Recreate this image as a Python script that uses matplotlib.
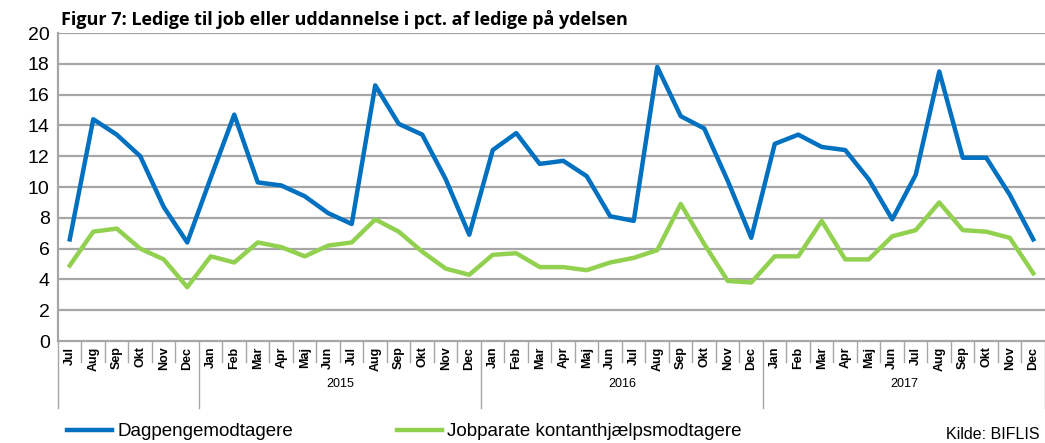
import matplotlib
matplotlib.use('Agg')
from matplotlib import pyplot as plt

months = ['Jul', 'Aug', 'Sep', 'Okt', 'Nov', 'Dec'] + \
         ['Jan', 'Feb', 'Mar', 'Apr', 'Maj', 'Jun', 'Jul', 'Aug', 'Sep', 'Okt', 'Nov', 'Dec'] * 3
years = ['2015', '2016', '2017']

dagpenge = [6.6, 14.4, 13.4, 12.0, 8.7, 6.4,
            10.6, 14.7, 10.3, 10.1, 9.4, 8.3, 7.6, 16.6, 14.1, 13.4, 10.5, 6.9,
            12.4, 13.5, 11.5, 11.7, 10.7, 8.1, 7.8, 17.8, 14.6, 13.8, 10.4, 6.7,
            12.8, 13.4, 12.6, 12.4, 10.5, 7.9, 10.8, 17.5, 11.9, 11.9, 9.5, 6.6]
kontant = [4.9, 7.1, 7.3, 6.0, 5.3, 3.5,
           5.5, 5.1, 6.4, 6.1, 5.5, 6.2, 6.4, 7.9, 7.1, 5.8, 4.7, 4.3,
           5.6, 5.7, 4.8, 4.8, 4.6, 5.1, 5.4, 5.9, 8.9, 6.3, 3.9, 3.8,
           5.5, 5.5, 7.8, 5.3, 5.3, 6.8, 7.2, 9.0, 7.2, 7.1, 6.7, 4.4]

plt.rcParams['font.family'] = ['Liberation Sans', 'DejaVu Sans']

fig = plt.figure(figsize=(10.45, 4.43), dpi=100)
ax = fig.add_axes([0.0555, 0.2302, 0.9445, 0.6953])

x = list(range(len(months)))
for yv in range(2, 21, 2):
    ax.axhline(yv, color='#a6a6a6', lw=1.6, zorder=1)
ax.plot(x, dagpenge, color='#0070c0', lw=3.2, zorder=3, label='Dagpengemodtagere')
ax.plot(x, kontant, color='#92d050', lw=3.2, zorder=3, label='Jobparate kontanthjælpsmodtagere')

ax.set_xlim(-0.5, len(months) - 0.5)
ax.set_ylim(0, 20)
ax.set_yticks(range(0, 21, 2))
ax.tick_params(axis='y', length=0, labelsize=14, pad=6)
ax.set_xticks(x)
ax.set_xticklabels(months, rotation=90, fontsize=9, fontweight='bold')
ax.tick_params(axis='x', length=0, pad=4)
for s in ['top', 'right']:
    ax.spines[s].set_visible(False)
ax.spines['left'].set_color('#a6a6a6')
ax.spines['left'].set_linewidth(1.6)
ax.spines['bottom'].set_color('#a6a6a6')
ax.spines['bottom'].set_linewidth(1.6)

tr = ax.get_xaxis_transform()
for i in range(len(months) + 1):
    b = i - 0.5
    low = -0.218 if (i - 6) % 12 == 0 or i == 0 else -0.068
    ax.plot([b, b], [0, low], transform=tr, color='#a6a6a6', lw=1, clip_on=False)
for k, yr in enumerate(years):
    ax.text(6 + 12 * k + 5.5, -0.14, yr, transform=tr, ha='center', va='center', fontsize=9)

fig.text(0.058, 0.955, 'Figur 7: Ledige til job eller uddannelse i pct. af ledige på ydelsen',
         fontsize=13, fontweight='bold', family='Open Sans', va='center')
fig.legend(loc='center left', bbox_to_anchor=(0.048, 0.025), ncol=2, frameon=False,
           fontsize=13.5, handlelength=2.4, handletextpad=0.3, columnspacing=5.5)
fig.text(0.995, 0.02, 'Kilde: BIFLIS', ha='right', va='center', fontsize=11.5)

fig.savefig('out.png', dpi=100)
